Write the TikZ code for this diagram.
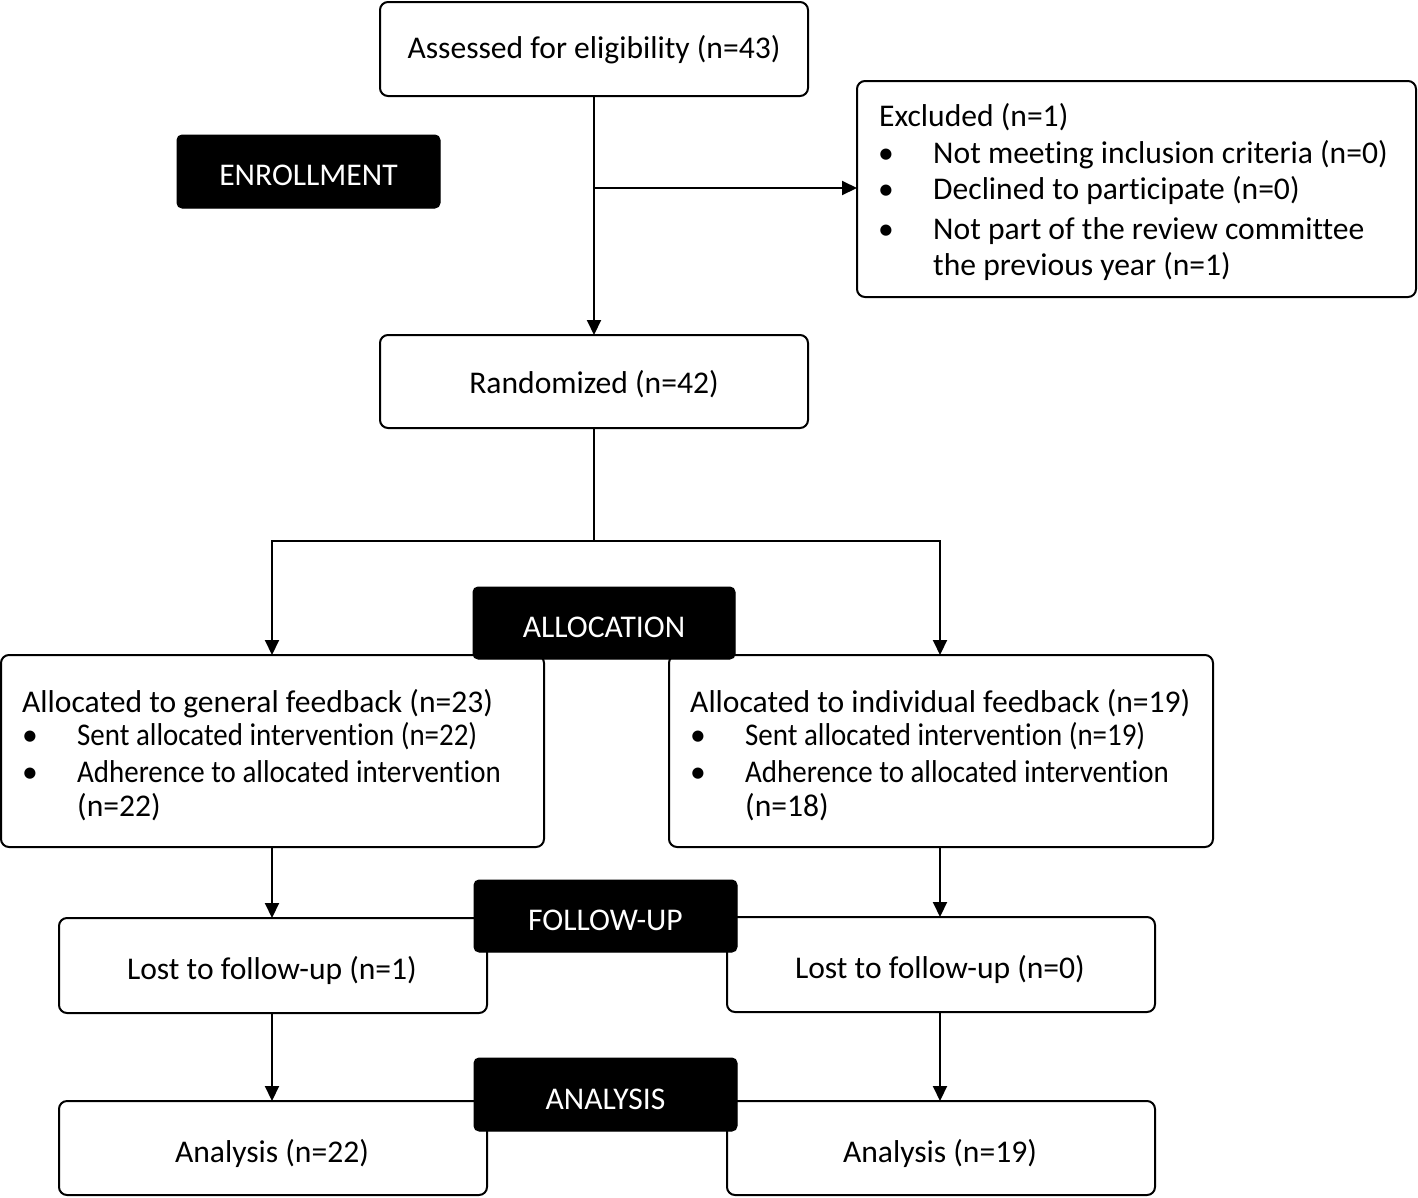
\documentclass[tikz,border=0pt]{standalone}
\usepackage{fontspec}
\setmainfont[Ligatures={NoCommon}]{Carlito}
\usetikzlibrary{arrows.meta}
\newcommand{\narrowtxt}[1]{\scalebox{0.916}[1]{#1}}
\begin{document}
\begin{tikzpicture}[x=1pt,y=-1pt,
  font=\fontsize{31.6}{36}\selectfont,
  wbox/.style={draw=black,line width=2pt,rounded corners=8pt,fill=white},
  bbox/.style={draw=black,line width=1pt,rounded corners=5pt,fill=black},
  btext/.style={text=white,font=\fontsize{31.6}{36}\selectfont},
  line/.style={inner sep=0pt,anchor=base west},
  conn/.style={line width=2pt},
  arr/.style={line width=2pt,-{Triangle[length=15pt,width=14pt]}}]
\useasboundingbox (0,0) rectangle (1418,1197);

% white boxes
\draw[wbox] (380,2) rectangle (808,96);
\node (assess) at (594,50) {Assessed for eligibility (n=43)};
\draw[wbox] (857,81) rectangle (1416,297);
\node[line] (ex0) at (879,126) {Excluded (n=1)};
\node[line] (exb1) at (878,163) {\textbullet};
\node[line] (ex1) at (933,163) {Not meeting inclusion criteria (n=0)};
\node[line] (exb2) at (878,199) {\textbullet};
\node[line] (ex2) at (933,199) {Declined to participate (n=0)};
\node[line] (exb3) at (878,239) {\textbullet};
\node[line] (ex3) at (933,239) {Not part of the review committee};
\node[line] (ex4) at (933,275) {the previous year (n=1)};

\draw[wbox] (380,335) rectangle (808,428);
\node (rand) at (594,384) {Randomized (n=42)};

\draw[wbox] (1,655) rectangle (544,847);
\node[line] (l0) at (22,712) {Allocated to general feedback (n=23)};
\node[line] (lb1) at (22,745) {\textbullet};
\node[line] (l1) at (77,745) {\narrowtxt{Sent allocated intervention (n=22)}};
\node[line] (lb2) at (22,782) {\textbullet};
\node[line] (l2) at (77,782) {\narrowtxt{Adherence to allocated intervention}};
\node[line] (l3) at (77,816) {(n=22)};

\draw[wbox] (669,655) rectangle (1213,847);
\node[line] (r0) at (690,712) {Allocated to individual feedback (n=19)};
\node[line] (rb1) at (690,745) {\textbullet};
\node[line] (r1) at (745,745) {\narrowtxt{Sent allocated intervention (n=19)}};
\node[line] (rb2) at (690,782) {\textbullet};
\node[line] (r2) at (745,782) {\narrowtxt{Adherence to allocated intervention}};
\node[line] (r3) at (745,816) {(n=18)};

\draw[wbox] (59,918) rectangle (487,1013);
\node (lostl) at (272,970) {Lost to follow-up (n=1)};
\draw[wbox] (727,917) rectangle (1155,1012);
\node (lostr) at (940,969) {Lost to follow-up (n=0)};

\draw[wbox] (59,1101) rectangle (487,1195);
\node (anl) at (272,1153) {Analysis (n=22)};
\draw[wbox] (727,1101) rectangle (1155,1195);
\node (anr) at (940,1153) {Analysis (n=19)};

% connectors
\coordinate (a1) at (594,96);
\coordinate (a2) at (594,188);
\coordinate (exin) at (857,188);
\coordinate (r1top) at (594,335);
\draw[conn] (a1) -- (a2);
\draw[arr] (a2) -- (exin);
\draw[arr] (a2) -- (r1top);

\coordinate (rb) at (594,428);
\coordinate (rs) at (594,541);
\coordinate (sl) at (272,541);
\coordinate (sr) at (940,541);
\coordinate (alt) at (272,655);
\coordinate (art) at (940,655);
\draw[conn] (rb) -- (rs);
\draw[arr] (rs) -- (sl) -- (alt);
\draw[arr] (rs) -- (sr) -- (art);

\coordinate (alb) at (272,847);
\coordinate (llt) at (272,918);
\coordinate (arb) at (940,847);
\coordinate (lrt) at (940,917);
\draw[arr] (alb) -- (llt);
\draw[arr] (arb) -- (lrt);

\coordinate (llb) at (272,1013);
\coordinate (anlt) at (272,1101);
\coordinate (lrb) at (940,1012);
\coordinate (anrt) at (940,1101);
\draw[arr] (llb) -- (anlt);
\draw[arr] (lrb) -- (anrt);

% black labels
\draw[bbox] (177,135) rectangle (440,208);
\node[btext] (enr) at (308.5,175) {ENROLLMENT};
\draw[bbox] (473,587) rectangle (735,659);
\node[btext] (alloc) at (604,627) {ALLOCATION};
\draw[bbox] (474,880) rectangle (737,952);
\node[btext] (fu) at (605.5,920) {FOLLOW-UP};
\draw[bbox] (474,1058) rectangle (737,1131);
\node[btext] (an) at (605.5,1099) {ANALYSIS};
\end{tikzpicture}
\end{document}
